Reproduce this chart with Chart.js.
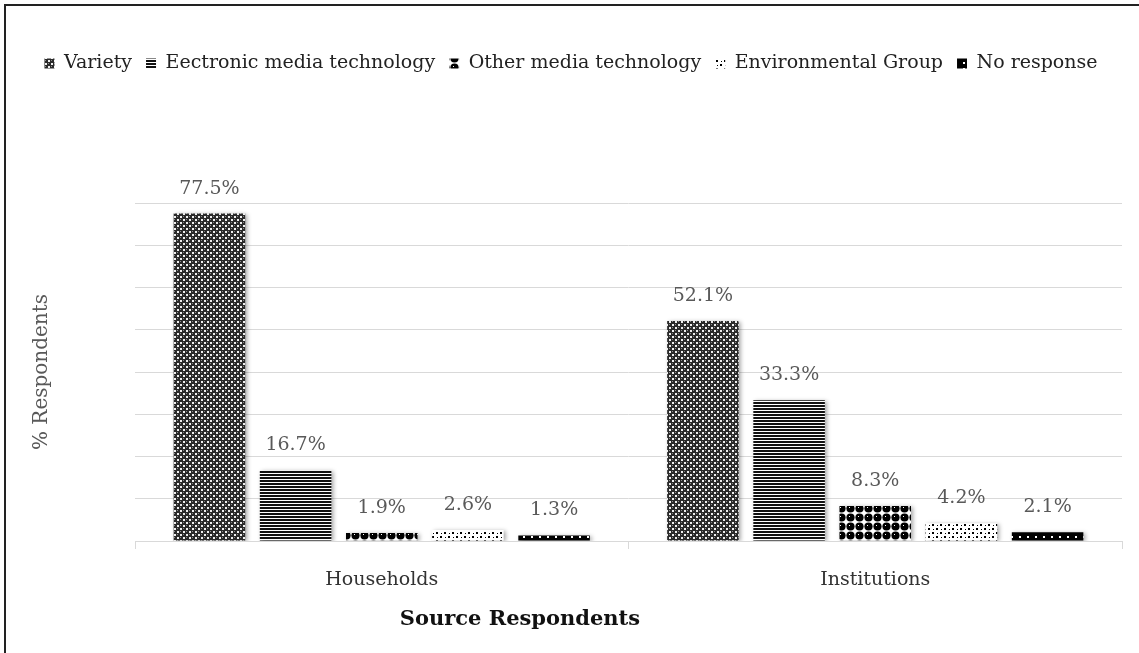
<!DOCTYPE html>
<html>
<head>
<meta charset="utf-8">
<script src="https://cdn.jsdelivr.net/npm/chart.js"></script>
<style>
  body { margin: 0; background: #fff; }
  #wrap { position: relative; width: 1139px; height: 653px; }
  #frame { position: absolute; left: 4px; top: 4px; right: -10px; bottom: -10px;
           border-top: 2px solid #222; border-left: 2px solid #222; pointer-events: none; }
</style>
</head>
<body>
<div id="wrap">
  <canvas id="chart" width="1139" height="653"></canvas>
  <div id="frame"></div>
</div>
<script>
const categories = ['Households', 'Institutions'];
const seriesNames = ['Variety', 'Eectronic media technology', 'Other media technology', 'Environmental Group', 'No response'];
const variety = [77.5, 52.1];
const electronicMedia = [16.7, 33.3];
const otherMedia = [1.9, 8.3];
const environmentalGroup = [2.6, 4.2];
const noResponse = [1.3, 2.1];
const xAxisTitle = 'Source Respondents';

const FONT = '"DejaVu Serif", "Liberation Serif", serif';

// small tiles used as bar fills
function makePattern(w, h, paint) {
  const c = document.createElement('canvas');
  c.width = w; c.height = h;
  const g = c.getContext('2d');
  paint(g, w, h);
  return g.createPattern(c, 'repeat');
}

const patVariety = makePattern(6, 6, (g) => {
  g.fillStyle = '#2a2a2a'; g.fillRect(0, 0, 6, 6);
  g.fillStyle = '#f0f0f0'; g.fillRect(0, 0, 2, 2); g.fillRect(3, 3, 2, 2);
  g.fillStyle = '#8a8a8a'; g.fillRect(3, 0, 1, 1); g.fillRect(0, 3, 1, 1);
});
const patElectronic = makePattern(4, 3, (g) => {
  g.fillStyle = '#fff'; g.fillRect(0, 0, 4, 3);
  g.fillStyle = '#111'; g.fillRect(0, 0, 4, 2);
});
const patOther = makePattern(9, 9, (g) => {
  g.fillStyle = '#fff'; g.fillRect(0, 0, 9, 9);
  g.fillStyle = '#000';
  g.beginPath(); g.arc(4.5, 4.5, 4.1, 0, Math.PI * 2); g.fill();
  g.fillStyle = '#fff'; g.fillRect(3, 3, 1, 1);
});
const patEnvironment = makePattern(8, 8, (g) => {
  g.fillStyle = '#fff'; g.fillRect(0, 0, 8, 8);
  g.fillStyle = '#000'; g.fillRect(0, 0, 2, 2); g.fillRect(4, 4, 2, 2);
  g.fillRect(5, 1, 1, 1); g.fillRect(1, 5, 1, 1);
});
const patNoResponse = makePattern(8, 6, (g) => {
  g.fillStyle = '#000'; g.fillRect(0, 0, 8, 6);
  g.fillStyle = '#fff'; g.fillRect(3, 2, 2, 2);
});

const seriesValues = [variety, electronicMedia, otherMedia, environmentalGroup, noResponse];
const fills = [patVariety, patElectronic, patOther, patEnvironment, patNoResponse];

// soft shadow under the bars, value labels above them, axis caption below
const barDecor = {
  id: 'barDecor',
  beforeDatasetsDraw(chart) {
    const ctx = chart.ctx;
    ctx.save();
    ctx.shadowColor = 'rgba(0,0,0,0.35)';
    ctx.shadowBlur = 4;
    ctx.shadowOffsetX = 2;
    ctx.shadowOffsetY = 1;
  },
  afterDatasetsDraw(chart) {
    const ctx = chart.ctx;
    ctx.restore();
    ctx.save();
    ctx.font = '19px ' + FONT;
    ctx.fillStyle = '#595959';
    ctx.textAlign = 'center';
    ctx.textBaseline = 'middle';
    chart.data.datasets.forEach((ds, i) => {
      chart.getDatasetMeta(i).data.forEach((bar, j) => {
        ctx.fillText(ds.data[j].toFixed(1) + '%', bar.x, bar.y - 25);
      });
    });
    const area = chart.chartArea;
    ctx.font = 'bold 21px ' + FONT;
    ctx.fillStyle = '#111';
    ctx.fillText(xAxisTitle, area.left + (area.right - area.left) * 0.39, chart.height - 33);
    ctx.restore();
  }
};

// fixed legend band above the plot
const legendBand = {
  id: 'legendBand',
  beforeInit(chart) {
    const fit = chart.legend.fit;
    chart.legend.fit = function () {
      fit.bind(chart.legend)();
      this.height = 163;
    };
  }
};

new Chart(document.getElementById('chart'), {
  type: 'bar',
  data: {
    labels: categories,
    datasets: seriesNames.map((name, i) => ({
      label: name,
      data: seriesValues[i],
      backgroundColor: fills[i],
      borderWidth: 0,
      categoryPercentage: 0.873,
      barPercentage: 0.83
    }))
  },
  options: {
    responsive: false,
    animation: false,
    layout: { padding: { left: 20, right: 17, top: 40, bottom: 0 } },
    plugins: {
      legend: {
        position: 'top',
        labels: {
          font: { family: FONT, size: 19 },
          color: '#222',
          boxWidth: 10,
          boxHeight: 10,
          padding: 14
        }
      },
      tooltip: { enabled: false }
    },
    scales: {
      x: {
        afterFit(scale) { scale.height = 112; },
        grid: { drawOnChartArea: false, drawTicks: true, tickLength: 8, color: '#d9d9d9' },
        border: { color: '#d9d9d9' },
        ticks: { font: { family: FONT, size: 19 }, color: '#333', padding: 20 },
        title: { display: false }
      },
      y: {
        afterFit(scale) { scale.width = 115; },
        min: 0,
        max: 80,
        ticks: { display: false, stepSize: 10 },
        grid: { color: '#d9d9d9', drawTicks: false },
        border: { display: false },
        title: {
          display: true,
          text: '% Respondents',
          font: { family: FONT, size: 20 },
          color: '#595959',
          padding: { top: 10, bottom: 0 }
        }
      }
    }
  },
  plugins: [legendBand, barDecor]
});
</script>
</body>
</html>
